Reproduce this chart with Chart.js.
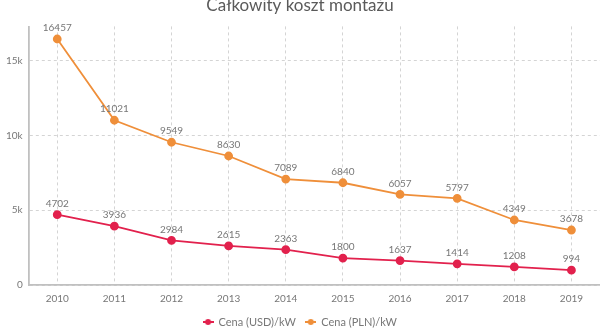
<!DOCTYPE html>
<html><head><meta charset="utf-8">
<script src="https://cdn.jsdelivr.net/npm/chart.js@4/dist/chart.umd.min.js"></script>
<style>html,body{margin:0;padding:0;background:#fff}#wrap{width:600px;height:330px}</style>
</head><body><div id="wrap"><canvas id="c" width="600" height="330"></canvas></div>
<script>
const title = 'Całkowity koszt montażu';
const years = ['2010','2011','2012','2013','2014','2015','2016','2017','2018','2019'];
const usd = [4702,3936,2984,2615,2363,1800,1637,1414,1208,994];
const pln = [16457,11021,9549,8630,7089,6840,6057,5797,4349,3678];
const seriesNames = ['Cena (USD)/kW','Cena (PLN)/kW'];
const yTicks = [0,5000,10000,15000];

const RED = '#e2214d', ORANGE = '#ef8f3a';
function marker(color){
  const c = document.createElement('canvas'); c.width = 11; c.height = 8;
  const g = c.getContext('2d');
  g.strokeStyle = color; g.lineWidth = 2; g.beginPath(); g.moveTo(0,4); g.lineTo(11,4); g.stroke();
  g.fillStyle = color; g.beginPath(); g.arc(5.5,4,3,0,Math.PI*2); g.fill();
  return c;
}
const labelsPlugin = {
  id:'vals',
  afterDatasetsDraw(chart){
    const ctx = chart.ctx; ctx.save();
    ctx.font = '10px Lato'; ctx.fillStyle = '#777'; ctx.textAlign='center'; ctx.textBaseline='bottom';
    chart.data.datasets.forEach((ds,i)=>{
      chart.getDatasetMeta(i).data.forEach((p,j)=>{ ctx.fillText(String(ds.data[j]), p.x, p.y-6); });
    });
    ctx.restore();
  }
};
new Chart(document.getElementById('c'), {
  type:'line',
  data:{labels:years, datasets:[
    {label:seriesNames[0], data:usd, borderColor:RED, backgroundColor:RED, borderWidth:1.8, pointRadius:3.5, pointHoverRadius:3.5, pointStyle:'circle', tension:0},
    {label:seriesNames[1], data:pln, borderColor:ORANGE, backgroundColor:ORANGE, borderWidth:1.8, pointRadius:3.5, pointHoverRadius:3.5, pointStyle:'circle', tension:0}
  ]},
  options:{
    responsive:false, animation:false, devicePixelRatio:1,
    layout:{autoPadding:false, padding:{left:0,right:0,top:0,bottom:-7.5}},
    plugins:{
      title:{display:true, text:title, color:'#5a5a5a', font:{family:'Lato', size:17, weight:'normal'}, padding:{top:-5,bottom:11}},
      legend:{position:'bottom', labels:{font:{family:'Lato',size:11}, color:'#777', pointStyleWidth:10, boxHeight:8, padding:10,
        generateLabels(chart){ return chart.data.datasets.map((d,i)=>({text:d.label, pointStyle:marker(i?ORANGE:RED), fillStyle:d.borderColor, strokeStyle:d.borderColor, lineWidth:0, datasetIndex:i, hidden:false, fontColor:'#777'})); },
        usePointStyle:true}},
      tooltip:{enabled:false}
    },
    scales:{
      x:{offset:true, grid:{offset:false, color:'#d4d4d4', drawTicks:false, tickLength:0},
         border:{display:true, color:'#c0c0c0', width:1.8, dash:[3,3]},
         afterFit(s){ s.height -= 6.5; },
         ticks:{color:'#777', font:{family:'Lato', size:10}, padding:8}},
      y:{min:0, max:17300, afterBuildTicks(s){ s.ticks = yTicks.map(v=>({value:v})); },
         grid:{color:'#d4d4d4', drawTicks:false},
         border:{display:true, color:'#c0c0c0', width:1.8, dash:[3,3]},
         ticks:{color:'#777', font:{family:'Lato', size:10}, padding:6, callback:v=> v===0?'0':(v/1000)+'k'}}
    }
  },
  plugins:[labelsPlugin]
});
</script></body></html>
